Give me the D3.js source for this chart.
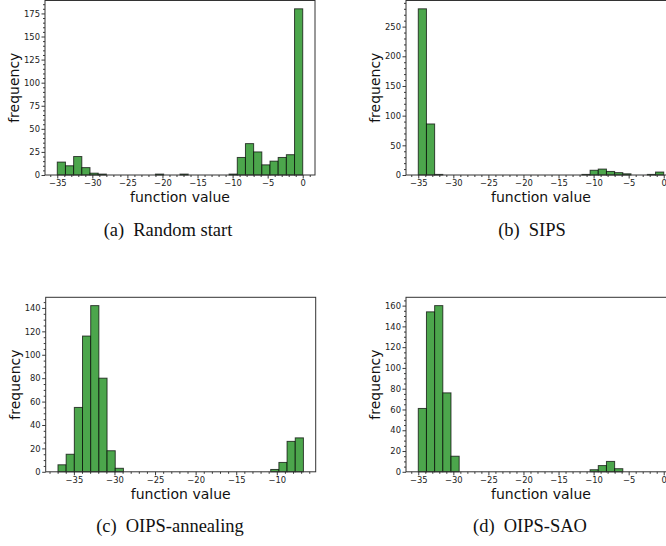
<!DOCTYPE html>
<html>
<head>
<meta charset="utf-8">
<script src="https://cdnjs.cloudflare.com/ajax/libs/d3/7.8.5/d3.min.js"></script>
<style>
  html, body { margin: 0; padding: 0; background: #fff; }
  svg { display: block; }
</style>
</head>
<body>
<svg id="chart" width="666" height="546"></svg>
<script>
// ---------------- DATA ----------------
// histogram counts (30 equal-width bins each) and the data range they span
const countsA = [14,10,20,8,2,1,0,0,0,0,0,0,1,0,0,1,0,0,0,0,0,1,19,34,25,11,15,19,22,180];
const rangeA = [-35, 0];
const countsB = [280,86,1,0,0,0,0,0,0,0,0,0,0,0,0,0,0,0,0,0,1,8,10,6,4,2,0,0,1,5];
const rangeB = [-35, 0];
const countsC = [6,15,55,116,142,80,18,3,0,0,0,0,0,0,0,0,0,0,0,0,0,0,0,0,0,0,2,8,26,29];
const rangeC = [-36.96, -6.72];
const countsD = [61,154,160,76,15,0,0,0,0,0,0,0,0,0,0,0,0,0,0,0,0,2,6,10,3,0,0,0,0,0];
const rangeD = [-35, 0];

const xTicksA = [-35,-30,-25,-20,-15,-10,-5,0];
const xTicksB = [-35,-30,-25,-20,-15,-10,-5,0];
const xTicksC = [-35,-30,-25,-20,-15,-10];
const xTicksD = [-35,-30,-25,-20,-15,-10,-5,0];
const yTicksA = [0,25,50,75,100,125,150,175];
const yTicksB = [0,50,100,150,200,250];
const yTicksC = [0,20,40,60,80,100,120,140];
const yTicksD = [0,20,40,60,80,100,120,140,160];
const yMinorStep = [5, 10, 5, 5];

const captionTags = ["(a)", "(b)", "(c)", "(d)"];
const captionNames = ["Random start", "SIPS", "OIPS-annealing", "OIPS-SAO"];
const xLabel = "function value";
const yLabel = "frequency";

// ---------------- LAYOUT ----------------
const svg = d3.select("#chart");
const W = 270, H = 174.5;
const panels = [
  {counts: countsA, range: rangeA, xt: xTicksA, yt: yTicksA, left: 45, top: 0.5, cap: [168, 236]},
  {counts: countsB, range: rangeB, xt: xTicksB, yt: yTicksB, left: 406, top: 0.5, cap: [532, 236]},
  {counts: countsC, range: rangeC, xt: xTicksC, yt: yTicksC, left: 45.7, top: 297.3, cap: [170, 532]},
  {counts: countsD, range: rangeD, xt: xTicksD, yt: yTicksD, left: 406, top: 297.3, cap: [530, 532]}
];

const tickFont = "DejaVu Sans, sans-serif";

panels.forEach((p, i) => {
  const n = p.counts.length;
  const [lo, hi] = p.range;
  const bw = (hi - lo) / n;
  const pad = (hi - lo) * 0.05;
  const x = d3.scaleLinear().domain([lo - pad, hi + pad]).range([0, W]);
  const ymax = d3.max(p.counts) * 1.05;
  const y = d3.scaleLinear().domain([0, ymax]).range([H, 0]);

  const g = svg.append("g").attr("transform", `translate(${p.left},${p.top})`);

  // bars
  const bins = p.counts.map((c, k) => ({x0: lo + k * bw, x1: lo + (k + 1) * bw, c}));
  g.selectAll("rect.bar").data(bins.filter(d => d.c > 0)).enter().append("rect")
    .attr("class", "bar")
    .attr("x", d => x(d.x0))
    .attr("width", d => x(d.x1) - x(d.x0))
    .attr("y", d => y(d.c))
    .attr("height", d => H - y(d.c))
    .attr("fill", "#4ca64c")
    .attr("stroke", "rgba(0,0,0,0.7)")
    .attr("stroke-width", 1);

  // x axis
  const xAxis = d3.axisBottom(x).tickValues(p.xt).tickSize(3.5).tickPadding(2)
    .tickFormat(d => d < 0 ? "\u2212" + Math.abs(d) : String(d));
  const gx = g.append("g").attr("transform", `translate(0,${H})`).call(xAxis);
  const xMinor = d3.range(Math.ceil(x.domain()[0]), Math.floor(x.domain()[1]) + 1).filter(v => !p.xt.includes(v));
  g.append("g").attr("transform", `translate(0,${H})`)
    .call(d3.axisBottom(x).tickValues(xMinor).tickSize(2).tickFormat(""))
    .call(s => s.select(".domain").remove());

  // y axis
  const yAxis = d3.axisLeft(y).tickValues(p.yt).tickSize(3.5).tickPadding(1.5);
  const gy = g.append("g").call(yAxis);
  const yMinor = d3.range(0, ymax, yMinorStep[i]).filter(v => !p.yt.includes(v));
  g.append("g")
    .call(d3.axisLeft(y).tickValues(yMinor).tickSize(2).tickFormat(""))
    .call(s => s.select(".domain").remove());

  [gx, gy].forEach(a => {
    a.selectAll("text").attr("font-family", tickFont).attr("font-size", 8.4).attr("fill", "#222");
    a.select(".domain").remove();
  });
  g.selectAll(".tick line").attr("stroke", "#222").attr("stroke-width", 0.9);

  // frame
  g.append("rect").attr("x", 0).attr("y", 0).attr("width", W).attr("height", H)
    .attr("fill", "none").attr("stroke", "#333").attr("stroke-width", 1);

  // labels
  g.append("text").attr("x", W / 2).attr("y", H + 27)
    .attr("text-anchor", "middle").attr("font-family", tickFont).attr("font-size", 14)
    .attr("fill", "#111").text(xLabel);
  g.append("text").attr("transform", `translate(-31,${H / 2}) rotate(-90)`)
    .attr("text-anchor", "middle").attr("dominant-baseline", "central")
    .attr("font-family", tickFont).attr("font-size", 14).attr("fill", "#111").text(yLabel);

  // caption
  const cap = svg.append("text").attr("x", p.cap[0]).attr("y", p.cap[1])
    .attr("text-anchor", "middle").attr("font-family", "Liberation Serif, serif")
    .attr("font-size", 18.5).attr("fill", "#111");
  cap.append("tspan").text(captionTags[i]);
  cap.append("tspan").attr("dx", 9).text(captionNames[i]);
});
</script>
</body>
</html>
